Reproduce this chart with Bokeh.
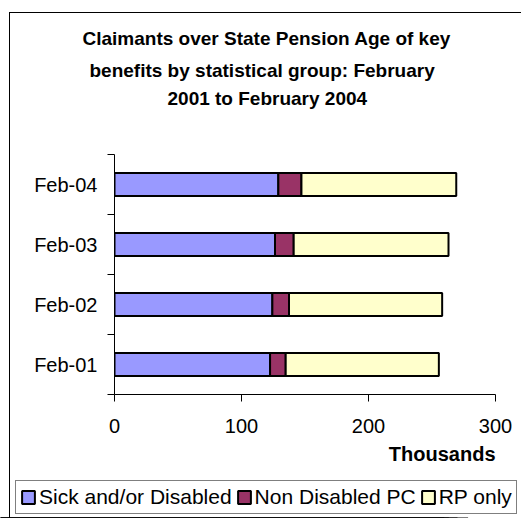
from bokeh.plotting import figure
from bokeh.layouts import column
from bokeh.models import (ColumnDataSource, Range1d, FixedTicker, Title, Legend, LegendItem)
from bokeh.embed import file_html
from bokeh.resources import INLINE

categories = ["Feb-01", "Feb-02", "Feb-03", "Feb-04"]
series = ["Sick and/or Disabled", "Non Disabled PC", "RP only"]
sick = [122.5, 124.3, 126.4, 129.0]
non_disabled_pc = [12.3, 13.1, 14.7, 18.2]
rp_only = [120.6, 120.6, 121.9, 121.9]
colors = ["#9999FF", "#993366", "#FFFFCC"]
x_ticks = [0, 100, 200, 300]
title_lines = ["Claimants over State Pension Age of key",
               "benefits by statistical group: February",
               "2001 to February 2004"]

FONT = "Liberation Sans"

pos = list(range(len(categories)))
src = ColumnDataSource(dict(y=pos, s0=sick, s1=non_disabled_pc, s2=rp_only))

p = figure(frame_width=381, frame_height=240,
           min_border_left=114, min_border_right=26,
           min_border_top=154, min_border_bottom=80,
           x_range=Range1d(0, 300), y_range=Range1d(-0.5, len(categories) - 0.5),
           output_backend="svg", toolbar_location=None)
p.frame_align = False
p.border_fill_color = None
p.styles = {"background": "linear-gradient(#000,#000) 9px 12px / 1px 100% no-repeat, "
                          "linear-gradient(#000,#000) 9px 12px / 100% 1px no-repeat"}

renderers = p.hbar_stack(["s0", "s1", "s2"], y="y", height=0.38, source=src,
                         fill_color=colors, line_color="black", line_width=2)

p.xgrid.visible = False
p.ygrid.visible = False
p.outline_line_color = None
p.background_fill_color = "white"

xa = p.xaxis[0]
xa.ticker = FixedTicker(ticks=x_ticks)
xa.major_tick_out = 7
xa.major_tick_in = 0
xa.minor_tick_line_color = None
xa.major_label_text_font = FONT
xa.major_label_text_font_size = "20px"
xa.major_label_text_color = "black"
xa.major_label_standoff = 17
xa.axis_line_color = "black"
xa.major_tick_line_color = "black"

ya = p.yaxis[0]
ya.ticker = FixedTicker(ticks=pos, minor_ticks=[i - 0.5 for i in range(len(categories) + 1)])
ya.major_label_overrides = {i: c for i, c in zip(pos, categories)}
ya.major_tick_out = 0
ya.major_tick_in = 0
ya.minor_tick_out = 7
ya.minor_tick_in = 0
ya.minor_tick_line_color = "black"
ya.major_label_text_font = FONT
ya.major_label_text_font_size = "20px"
ya.major_label_text_color = "black"
ya.major_label_standoff = 10
ya.axis_line_color = "black"

def title_font(t):
    t.text_font = FONT
    t.text_font_size = "19px"
    t.text_font_style = "bold"
    t.text_color = "black"

# p.title is outermost; "above" list items stack outward from the frame
p.title.text = title_lines[0]
p.title.align = "left"
p.title.offset = -32
p.title.standoff = 8
title_font(p.title)

spacer = Title(text=" ", standoff=23)
title_font(spacer)
p.add_layout(spacer, "above")
for line, off, so in [(title_lines[2], 53, 0), (title_lines[1], -25, 10)]:
    t = Title(text=line, align="left", offset=off, standoff=so)
    title_font(t)
    p.add_layout(t, "above")

p.add_layout(Title(text="Thousands", align="right", text_font=FONT,
                   text_font_size="20px", text_font_style="bold",
                   text_color="black", standoff=10), "below")

# legend strip below the chart (its bars sit outside its visible range)
p2 = figure(width=521, height=44, min_border=0,
            x_range=Range1d(0, 300), y_range=Range1d(100, 101),
            x_axis_type=None, y_axis_type=None,
            output_backend="svg", toolbar_location=None)
p2.frame_align = False
p2.grid.visible = False
p2.outline_line_color = None
p2.border_fill_color = None
p2.background_fill_color = None
p2.styles = {"background": "linear-gradient(#000,#000) 9px 0px / 1px 100% no-repeat"}

key_renderers = p2.hbar_stack(["s0", "s1", "s2"], y="y", height=0.38, source=src,
                              fill_color=colors, line_color="black", line_width=2)

legend = Legend(items=[LegendItem(label=s, renderers=[r]) for s, r in zip(series, key_renderers)],
                orientation="horizontal", location=(15, 4),
                label_text_font=FONT, label_text_font_size="21px",
                label_text_color="black",
                glyph_width=16, glyph_height=16, label_standoff=3, spacing=4,
                padding=4, margin=0, border_line_color="black", border_line_width=1,
                background_fill_color="white", background_fill_alpha=1.0)
p2.add_layout(legend, "center")

layout = column(p, p2, spacing=0)
open("out.html", "w").write(file_html(layout, INLINE))
